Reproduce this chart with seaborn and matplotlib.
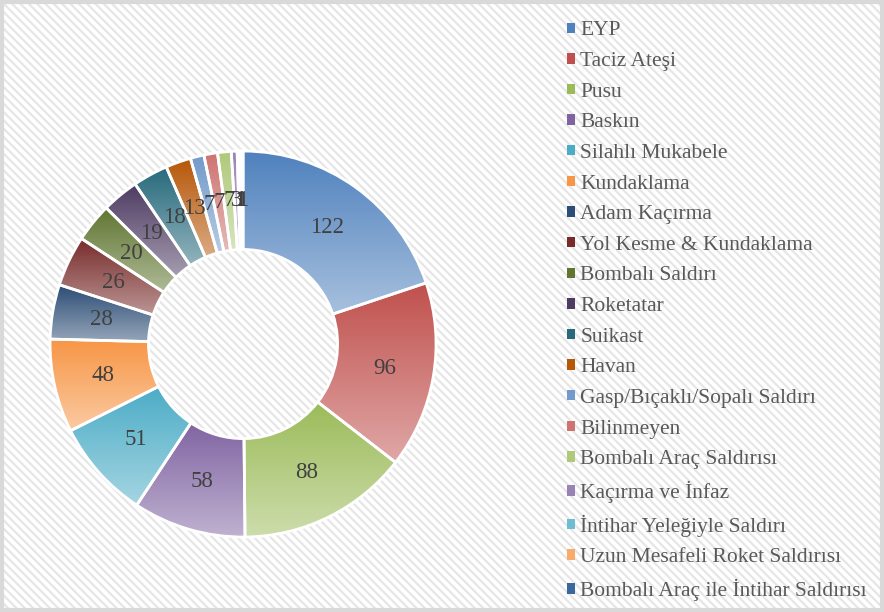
import numpy as np
import matplotlib
matplotlib.use("Agg")
import matplotlib.pyplot as plt
import matplotlib.colors as mcolors
from matplotlib.patches import Rectangle, Patch
import seaborn as sns

# Data
categories = ["EYP", "Taciz Ateşi", "Pusu", "Baskın", "Silahlı Mukabele", "Kundaklama",
              "Adam Kaçırma", "Yol Kesme & Kundaklama", "Bombalı Saldırı", "Roketatar",
              "Suikast", "Havan", "Gasp/Bıçaklı/Sopalı Saldırı", "Bilinmeyen",
              "Bombalı Araç Saldırısı", "Kaçırma ve İnfaz", "İntihar Yeleğiyle Saldırı",
              "Uzun Mesafeli Roket Saldırısı", "Bombalı Araç ile İntihar Saldırısı"]
values = [122, 96, 88, 58, 51, 48, 28, 26, 20, 19, 18, 13, 7, 7, 7, 3, 1, 1, 1]
colors = ["#4F81BD", "#C0504D", "#9BBB59", "#8064A2", "#4BACC6", "#F79646",
          "#2C4D75", "#772C2A", "#5F7530", "#4D3B62", "#276A7C", "#B65708",
          "#729ACA", "#CD7371", "#AFC97A", "#9983B5", "#6FBDD1", "#F9AB6B", "#3A679C"]

sns.set_theme(style="white")
plt.rcParams['font.family'] = ['Liberation Serif', 'DejaVu Serif']
plt.rcParams['hatch.linewidth'] = 1.6

fig = plt.figure(figsize=(8.84, 6.12), dpi=100)
fig.patch.set_facecolor("white")

# hatched background + border
bg = Rectangle((0, 0), 1, 1, transform=fig.transFigure, facecolor="white",
               edgecolor="#e6e6e6", hatch="\\\\\\\\", linewidth=0, zorder=-10)
fig.patches.append(bg)
border = Rectangle((0.002, 0.003), 0.996, 0.994, transform=fig.transFigure,
                   fill=False, edgecolor="#d9d9d9", linewidth=3, zorder=-9)
fig.patches.append(border)

ax = fig.add_axes([0.0566, 0.1225, 0.4367, 0.6307])
total = sum(values)

wedges, texts, autotexts = ax.pie(
    values, colors=colors, startangle=90, counterclock=False, radius=1,
    wedgeprops=dict(width=0.51, edgecolor="white", linewidth=2),
    autopct=lambda p: f"{p * total / 100:.0f}", pctdistance=0.745,
    textprops=dict(color="#404040", fontsize=16.5))

# vertical gradient fill in each slice
grad = np.linspace(0, 1, 128)[:, None, None]
for w, c in zip(wedges, colors):
    base = np.array(mcolors.to_rgb(c))
    light = base + (1 - base) * 0.5
    img = base * (1 - grad) + light * grad
    bb = w.get_path().get_extents()
    im = ax.imshow(img, extent=(bb.x0, bb.x1, bb.y0, bb.y1), origin="upper",
                   aspect="auto", interpolation="bilinear", zorder=1)
    im.set_clip_path(w)
    w.set_facecolor("none")
    w.set_zorder(2)
for t in autotexts:
    t.set_zorder(3)

ax.set_xlim(-1, 1)
ax.set_ylim(-1, 1)
ax.set_aspect("equal")
ax.axis("off")

handles = [Patch(facecolor=c, edgecolor="none") for c in colors]
leg = fig.legend(handles, categories, loc="upper left", bbox_to_anchor=(0.6316, 0.979),
                 frameon=False, fontsize=15.5, handlelength=0.37, handleheight=0.37,
                 handletextpad=0.25, labelspacing=0.54, borderpad=0.4, borderaxespad=0)
for t in leg.get_texts():
    t.set_color("#595959")

fig.savefig("out.png", dpi=100)
